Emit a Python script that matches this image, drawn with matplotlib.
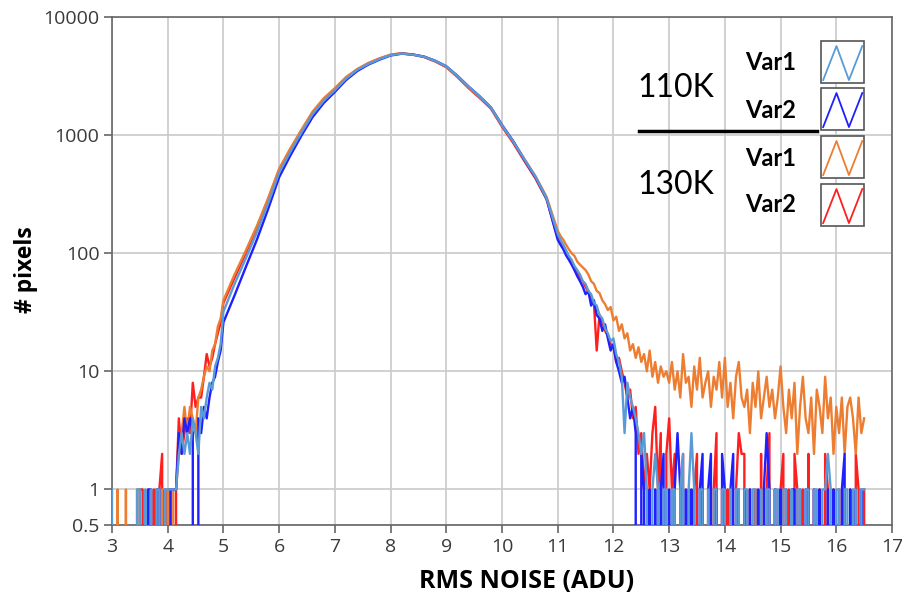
import numpy as np
import matplotlib as mpl
mpl.use('Agg')
import matplotlib.pyplot as plt
from matplotlib.patches import Rectangle
from matplotlib.lines import Line2D
from matplotlib.ticker import FixedLocator, FixedFormatter, NullLocator

plt.rcParams['font.family'] = ['Open Sans', 'DejaVu Sans']

# histogram bin centres (ADU): fine bins in the tails, coarser in the core
x_left = np.round(np.arange(3.0, 4.96, 0.05), 2)
x_mid = np.round(np.arange(5.0, 10.81, 0.2), 2)
x_right = np.round(np.arange(11.0, 16.51, 0.05), 2)
rms_bins = np.concatenate([x_left, x_mid, x_right])

# pixel counts per bin (0 = empty bin)
var1_110k = [
    # 3.00 - 4.95
    1, 0, 0, 0, 0, 0, 0, 0, 0, 1, 1, 0, 1, 0, 1, 0, 1, 1, 0, 1,
    1, 1, 1, 1, 2, 3, 2, 3, 2, 4, 3, 2, 5, 4, 6, 8, 7, 11, 13, 17,
    # 5.0 - 10.8
    32, 55, 90, 150, 262, 480, 720, 1050, 1500, 1950,
    2400, 3000, 3560, 4000, 4400, 4750, 4900, 4800, 4610, 4260,
    3820, 3170, 2570, 2120, 1720, 1210, 885, 625, 445, 292,
    # 11.00 - 16.50
    145, 130, 118, 106, 95, 88, 78, 72, 66, 58, 55, 48, 45, 38, 36, 30, 28, 23, 21, 18,
    19, 14, 12, 9, 3, 8, 6, 5, 4, 3, 2, 3, 1, 0, 1, 2, 1, 0, 1, 1,
    0, 1, 1, 0, 1, 2, 0, 1, 3, 1, 0, 1, 1, 0, 1, 0, 1, 1, 0, 1,
    1, 0, 1, 0, 1, 1, 0, 1, 1, 0, 1, 1, 0, 1, 0, 1, 1, 0, 1, 1,
    0, 1, 1, 0, 1, 0, 1, 1, 0, 1, 1, 0, 1, 1, 0, 1, 1, 2, 1, 0,
    1, 1, 0, 1, 1, 0, 1, 1, 0, 1, 1,
]
var2_110k = [
    0, 0, 0, 0, 0, 0, 0, 0, 0, 0, 0, 0, 0, 1, 1, 0, 1, 1, 0, 1,
    0, 1, 1, 1, 3, 2, 4, 3, 4, 3, 0, 4, 3, 5, 4, 6, 8, 9, 12, 15,
    26, 44, 76, 130, 235, 440, 670, 990, 1420, 1870,
    2320, 2920, 3480, 3950, 4350, 4720, 4890, 4810, 4620, 4270,
    3830, 3180, 2580, 2130, 1720, 1220, 890, 620, 440, 290,
    130, 118, 108, 96, 88, 80, 72, 64, 58, 52, 45, 48, 36, 40, 30, 28, 22, 25, 19, 15,
    17, 12, 10, 8, 9, 6, 4, 5, 3, 0, 2, 1, 0, 1, 0, 1, 0, 1, 2, 0,
    1, 0, 1, 3, 1, 0, 1, 0, 1, 0, 0, 1, 2, 0, 1, 2, 0, 1, 0, 2,
    1, 0, 1, 2, 0, 1, 0, 1, 0, 1, 0, 0, 1, 0, 1, 3, 1, 0, 1, 0,
    1, 0, 1, 0, 1, 1, 0, 1, 0, 1, 1, 0, 1, 0, 1, 0, 0, 1, 0, 1,
    0, 0, 1, 2, 0, 1, 0, 1, 0, 1, 0,
]
var1_130k = [
    0, 0, 1, 0, 0, 1, 0, 0, 0, 1, 1, 0, 0, 1, 0, 0, 1, 0, 1, 0,
    1, 0, 1, 1, 2, 3, 5, 3, 5, 4, 3, 6, 7, 9, 11, 10, 15, 17, 24, 28,
    40, 66, 105, 170, 290, 520, 770, 1110, 1580, 2050,
    2500, 3100, 3620, 4080, 4470, 4800, 4950, 4820, 4620, 4230,
    3780, 3120, 2530, 2090, 1700, 1210, 890, 630, 450, 300,
    155, 140, 130, 118, 108, 100, 95, 85, 80, 76, 72, 66, 58, 55, 48, 46, 40, 37, 33, 35,
    27, 29, 22, 25, 19, 21, 15, 17, 13, 16, 12, 14, 10, 15, 9, 12, 8, 11, 9, 10,
    8, 12, 7, 10, 6, 14, 8, 9, 5, 11, 7, 13, 6, 8, 10, 5, 9, 7, 12, 6,
    13, 5, 8, 4, 9, 12, 6, 5, 7, 3, 8, 5, 10, 4, 6, 9, 5, 7, 4, 6,
    11, 5, 3, 7, 4, 8, 2, 5, 9, 4, 3, 6, 2, 7, 5, 3, 9, 4, 6, 2,
    5, 3, 6, 2, 5, 6, 4, 2, 6, 3, 4,
]
var2_130k = [
    0, 0, 0, 0, 0, 0, 0, 0, 0, 0, 1, 1, 0, 0, 0, 1, 0, 1, 2, 0,
    1, 1, 0, 1, 4, 2, 3, 4, 3, 8, 5, 6, 6, 9, 14, 11, 13, 17, 21, 26,
    38, 62, 100, 165, 285, 505, 750, 1090, 1550, 2000,
    2460, 3050, 3600, 4050, 4430, 4780, 4920, 4790, 4580, 4200,
    3760, 3100, 2500, 2060, 1680, 1180, 860, 605, 430, 285,
    135, 125, 112, 100, 92, 85, 75, 70, 62, 58, 52, 47, 40, 38, 15, 30, 26, 22, 20, 17,
    16, 12, 13, 10, 8, 6, 7, 4, 5, 2, 3, 1, 2, 1, 3, 5, 1, 3, 0, 2,
    4, 1, 2, 0, 1, 2, 0, 1, 0, 1, 2, 0, 1, 0, 1, 0, 1, 3, 0, 1,
    0, 1, 0, 0, 1, 3, 2, 2, 0, 1, 0, 1, 0, 2, 0, 1, 3, 0, 1, 0,
    1, 2, 0, 1, 0, 2, 1, 0, 1, 0, 2, 0, 1, 0, 1, 0, 2, 1, 0, 1,
    0, 1, 0, 1, 0, 1, 0, 2, 1, 0, 1,
]

temps = ['110K', '130K']
var_names = ['Var1', 'Var2', 'Var1', 'Var2']
colors = {'var1_110k': '#5b9bd5', 'var2_110k': '#1f1fff',
          'var1_130k': '#ed7d31', 'var2_130k': '#ff1f1f'}

y_ticks = [0.5, 1, 10, 100, 1000, 10000]
y_ticklabels = ['0.5', '1', '10', '100', '1000', '10000']
x_ticks = list(range(3, 18))

W, H = 902, 597
fig = plt.figure(figsize=(W / 100, H / 100), dpi=100)
ax = fig.add_axes([112 / W, 1 - 525 / H, 780 / W, 508 / H])

series = [('var2_130k', var2_130k), ('var1_130k', var1_130k),
          ('var2_110k', var2_110k), ('var1_110k', var1_110k)]
for key, counts in series:
    ax.plot(rms_bins, np.array(counts, dtype=float), color=colors[key],
            lw=1.7, zorder=3)

ax.set_yscale('log', nonpositive='clip')
ax.set_xlim(3, 17)
ax.set_ylim(0.5, 10000)
ax.yaxis.set_major_locator(FixedLocator(y_ticks))
ax.yaxis.set_major_formatter(FixedFormatter(y_ticklabels))
ax.yaxis.set_minor_locator(NullLocator())
ax.set_xticks(x_ticks)
ax.grid(True, color='#cacaca', lw=1.2, zorder=0)
ax.set_axisbelow(True)
for s in ax.spines.values():
    s.set_color('#666666')
    s.set_linewidth(1.2)
ax.tick_params(direction='out', length=6, width=1.2, color='#666666',
               labelcolor='#3a3a3a', labelsize=14, pad=3)

fig.text(527 / W, 1 - 582 / H, 'RMS NOISE (ADU)', ha='center', va='center',
         fontsize=18, fontweight='bold')
fig.text(26 / W, 1 - 270 / H, '# pixels', ha='center', va='center',
         rotation=90, fontsize=16.5, fontweight='bold')

# hand-built legend
def fx(px):
    return px / W


def fy(py):
    return 1 - py / H


fig.text(fx(637), fy(88), temps[0], fontsize=23, family='Lato',
         ha='left', va='center')
fig.text(fx(637), fy(185), temps[1], fontsize=23, family='Lato',
         ha='left', va='center')
fig.add_artist(Line2D([fx(639), fx(817)], [fy(131), fy(131)],
                      color='black', lw=2.5, transform=fig.transFigure))

box_tops = [41, 88, 136, 184]
label_y = [62, 110, 158, 205]
box_colors = [colors['var1_110k'], colors['var2_110k'],
              colors['var1_130k'], colors['var2_130k']]
for name, top, ly, c in zip(var_names, box_tops, label_y, box_colors):
    fig.text(fx(745), fy(ly), name, fontsize=17, fontweight='bold',
             family='Lato', ha='left', va='center')
    fig.add_artist(Rectangle((fx(821), fy(top + 42)), 43 / W, 42 / H,
                             transform=fig.transFigure, facecolor='white',
                             edgecolor='#555555', lw=1.2))
    zx = [821 + 43 * f for f in (0.05, 0.36, 0.65, 0.96)]
    zy = [top + 42 * f for f in (0.93, 0.12, 0.93, 0.12)]
    fig.add_artist(Line2D([fx(v) for v in zx], [fy(v) for v in zy],
                          color=c, lw=1.3, transform=fig.transFigure))

fig.savefig('out.png', dpi=100)
